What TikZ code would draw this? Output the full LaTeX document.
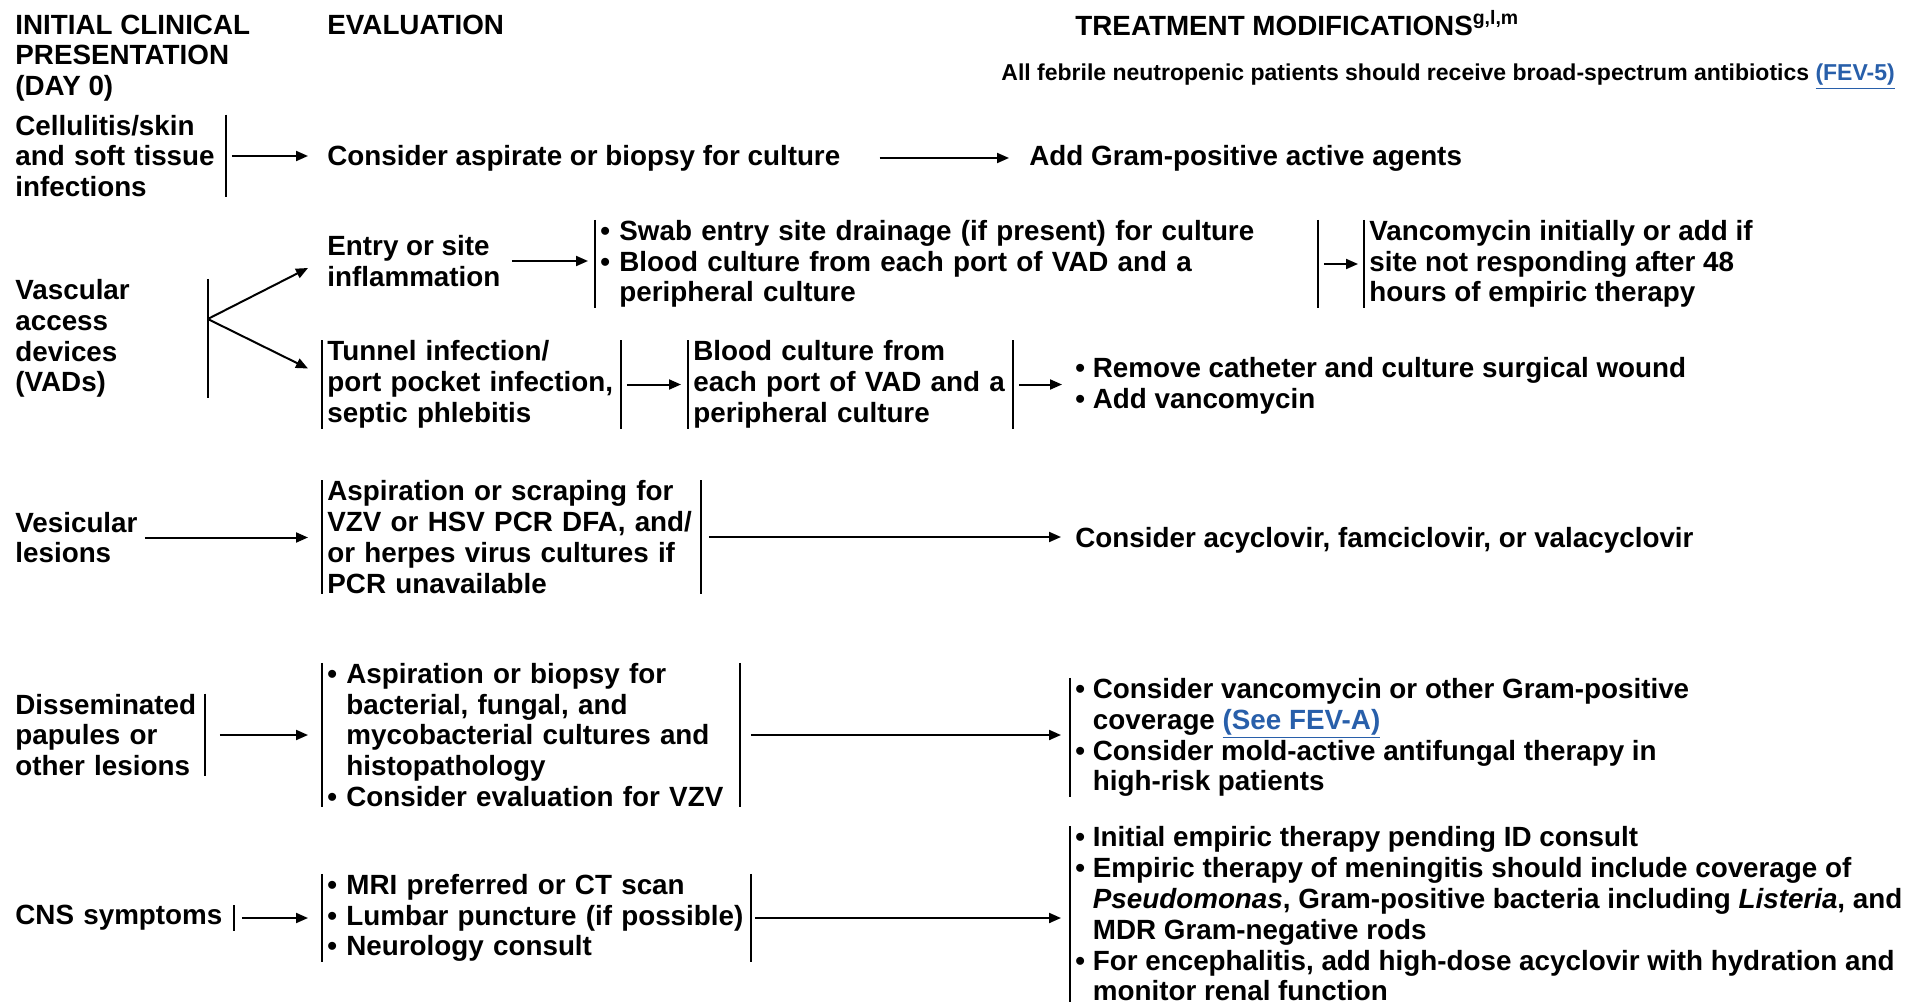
\documentclass[tikz,border=0pt]{standalone}
\usepackage{fontspec}
\setmainfont{Liberation Sans}
\usetikzlibrary{arrows.meta}
\definecolor{linkblue}{RGB}{40,95,170}
\newcommand{\bodyfont}{\bfseries\fontsize{13.9}{15.4}\selectfont}
\newcommand{\notefont}{\bfseries\fontsize{11.5}{13}\selectfont}
\newcommand{\bpt}{\textbullet\ }
\newcommand{\bsp}{\phantom{\textbullet\ }}
\newcommand{\lnk}[1]{\textcolor{linkblue}{\underline{#1}}}

\begin{document}
\begin{tikzpicture}[
  x=0.5pt, y=-0.5pt,
  box/.style={font=\bodyfont, align=left, anchor=west, inner xsep=2.5pt, inner ysep=0pt},
  note/.style={box, font=\notefont},
  bar/.style={line width=0.8pt},
  arr/.style={line width=1pt, -{Triangle[length=6pt,width=5pt]}},
]
  \useasboundingbox (0,0) rectangle (1930,1005);

  % column headings
  \node[box] (hdinit) at (10,58) {INITIAL CLINICAL\\PRESENTATION\\(DAY 0)};
  \node[box] (hdeval) at (322,25) {EVALUATION};
  \node[box] (hdtreat) at (1070,23) {TREATMENT MODIFICATIONS\textsuperscript{g,l,m}};
  \node[note] (febrile) at (996,77) {All febrile neutropenic patients should receive broad-spectrum antibiotics \lnk{(FEV-5)}};

  % cellulitis
  \node[box, text width=102.5pt] (pres1) at (10,156) {Cellulitis/skin\\and soft tissue\\infections};
  \node[box] (eval1) at (322,158) {Consider aspirate or biopsy for culture};
  \node[box] (treat1) at (1024,158) {Add Gram-positive active agents};

  % vascular access devices
  \node[box, text width=93.5pt] (vad) at (10,338.5) {Vascular\\access\\devices\\(VADs)};
  \node[box] (entry) at (322,261) {Entry or site\\inflammation};
  \node[box, text width=356pt] (swab) at (595,264) {\bpt Swab entry site drainage (if present) for culture\\\bpt Blood culture from each port of VAD and a\\\bsp peripheral culture};
  \node[box] (vanc) at (1364,264) {Vancomycin initially or add if\\site not responding after 48\\hours of empiric therapy};
  \node[box, text width=144pt] (tunnel) at (322,384.5) {Tunnel infection/\\port pocket infection,\\septic phlebitis};
  \node[box, text width=157pt] (bcult) at (688,384.5) {Blood culture from\\each port of VAD and a\\peripheral culture};
  \node[box] (remove) at (1070,385.5) {\bpt Remove catheter and culture surgical wound\\\bpt Add vancomycin};

  % vesicular lesions
  \node[box] (pres3) at (10,537.5) {Vesicular\\lesions};
  \node[box, text width=184pt] (vesic) at (322,537) {Aspiration or scraping for\\VZV or HSV PCR DFA, and/\\or herpes virus cultures if\\PCR unavailable};
  \node[box] (acyc) at (1070,540) {Consider acyclovir, famciclovir, or valacyclovir};

  % disseminated papules
  \node[box, text width=92pt] (pres4) at (10,735) {Disseminated\\papules or\\other lesions};
  \node[box, text width=203.5pt] (dissev) at (322,735) {\bpt Aspiration or biopsy for\\\bsp bacterial, fungal, and\\\bsp mycobacterial cultures and\\\bsp histopathology\\\bpt Consider evaluation for VZV};
  \node[box] (dtreat) at (1070,737.5) {\bpt Consider vancomycin or other Gram-positive\\\bsp coverage \lnk{(See FEV-A)}\\\bpt Consider mold-active antifungal therapy in\\\bsp high-risk patients};

  % CNS symptoms
  \node[box, text width=106.5pt] (pres5) at (10,918) {CNS symptoms};
  \node[box, text width=209pt] (cnsev) at (322,918) {\bpt MRI preferred or CT scan\\\bpt Lumbar puncture (if possible)\\\bpt Neurology consult};
  \node[box] (ctreat) at (1070,914) {\bpt Initial empiric therapy pending ID consult\\\bpt Empiric therapy of meningitis should include coverage of\\\bsp\textit{Pseudomonas}, Gram-positive bacteria including \textit{Listeria}, and\\\bsp MDR Gram-negative rods\\\bpt For encephalitis, add high-dose acyclovir with hydration and\\\bsp monitor renal function};

  % bars
  \foreach \n in {swab,vanc,tunnel,bcult,vesic,dissev,dtreat,cnsev,ctreat}
    \draw[bar] (\n.north west) -- (\n.south west);
  \foreach \n in {pres1,vad,swab,tunnel,bcult,vesic,dissev,pres4,pres5,cnsev}
    \draw[bar] (\n.north east) -- (\n.south east);

  % arrows
  \coordinate (fork) at (vad.east |- 0,319);
  \draw[arr] (fork) -- ([shift={(-14,7)}]entry.west);
  \draw[arr] (fork) -- ([shift={(-14,-16)}]tunnel.west);
  \draw[arr, shorten <=3pt, shorten >=7pt] (pres1.east) -- (pres1.east -| eval1.west);
  \draw[arr, shorten <=17pt, shorten >=7.5pt] (eval1.east) -- (eval1.east -| treat1.west);
  \draw[arr, shorten <=3pt, shorten >=3.5pt] (entry.east) -- (entry.east -| swab.west);
  \draw[arr, shorten <=3pt, shorten >=3pt] (swab.east) -- (swab.east -| vanc.west);
  \draw[arr, shorten <=3pt, shorten >=3.5pt] (tunnel.east) -- (tunnel.east -| bcult.west);
  \draw[arr, shorten <=3pt, shorten >=4pt] (bcult.east) -- (bcult.east -| remove.west);
  \draw[arr, shorten <=1pt, shorten >=7pt] (pres3.east) -- (pres3.east -| vesic.west);
  \draw[arr, shorten <=4pt, shorten >=4.5pt] (vesic.east) -- (vesic.east -| acyc.west);
  \draw[arr, shorten <=7.5pt, shorten >=7pt] (pres4.east) -- (pres4.east -| dissev.west);
  \draw[arr, shorten <=5.5pt, shorten >=4.5pt] (dissev.east) -- (dissev.east -| dtreat.west);
  \draw[arr, shorten <=4pt, shorten >=7pt] (pres5.east) -- (pres5.east -| cnsev.west);
  \draw[arr, shorten <=2pt, shorten >=4.5pt] (cnsev.east) -- (cnsev.east -| ctreat.west);
\end{tikzpicture}
\end{document}
